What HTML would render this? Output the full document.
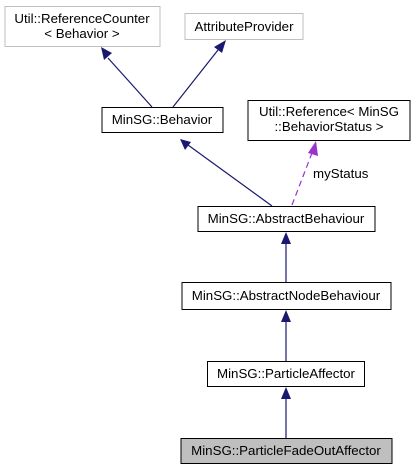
<!DOCTYPE html>
<html><head><style>
body{margin:0;background:#fff;}
svg text{font-family:"Liberation Sans",sans-serif;font-size:13.3px;fill:#000;}
</style></head><body>
<svg width="416" height="469" viewBox="0 0 416 469" xmlns="http://www.w3.org/2000/svg">
<g fill="#fff" stroke="#bfbfbf" stroke-width="1">
<rect x="5" y="6.5" width="155" height="40"/>
<rect x="185" y="13.5" width="118" height="26"/>
</g>
<g fill="#fff" stroke="#000" stroke-width="1">
<rect x="102" y="107.5" width="121" height="25"/>
<rect x="248" y="100.5" width="162" height="40"/>
<rect x="198" y="206.5" width="177" height="25"/>
<rect x="182" y="282.5" width="209" height="27"/>
<rect x="207.5" y="361.5" width="157" height="25"/>
<rect x="181" y="438.5" width="211" height="25" fill="#bfbfbf"/>
</g>
<g text-anchor="middle">
<text x="82" y="23">Util::ReferenceCounter</text>
<text x="82" y="38">&lt; Behavior &gt;</text>
<text x="244" y="31">AttributeProvider</text>
<text x="162" y="124">MinSG::Behavior</text>
<text x="329" y="116">Util::Reference&lt; MinSG</text>
<text x="329" y="131">::BehaviorStatus &gt;</text>
<text x="286" y="223">MinSG::AbstractBehaviour</text>
<text x="286" y="300">MinSG::AbstractNodeBehaviour</text>
<text x="286" y="378">MinSG::ParticleAffector</text>
<text x="286" y="455">MinSG::ParticleFadeOutAffector</text>
</g>
<text x="313" y="178">myStatus</text>
<g stroke="#191970" stroke-width="1.2" fill="none">
<line x1="152" y1="107" x2="108" y2="58"/>
<line x1="173" y1="107" x2="218" y2="50"/>
<line x1="272" y1="206" x2="188" y2="145"/>
<line x1="286" y1="282" x2="286" y2="243"/>
<line x1="286" y1="361" x2="286" y2="320"/>
<line x1="286" y1="438" x2="286" y2="397"/>
</g>
<g fill="#191970">
<polygon points="101,47 104,60 112,53"/>
<polygon points="226,40 214,47 222,53"/>
<polygon points="180,139 185,150 191,142"/>
<polygon points="286,232 281,244 291,244"/>
<polygon points="286,310 281,322 291,322"/>
<polygon points="286,387 281,399 291,399"/>
</g>
<line x1="292" y1="205" x2="312" y2="153" stroke="#9a32cd" stroke-width="1.2" stroke-dasharray="6,4"/>
<polygon points="316,141 308,153 318,156" fill="#9a32cd"/>
</svg>
</body></html>
